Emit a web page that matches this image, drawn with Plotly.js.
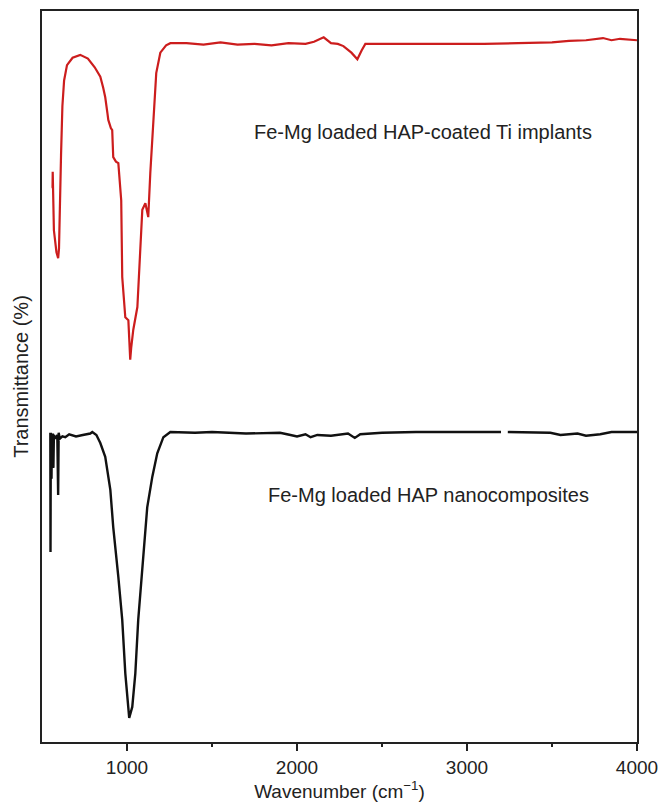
<!DOCTYPE html>
<html>
<head>
<meta charset="utf-8">
<script src="https://cdn.plot.ly/plotly-3.0.1.min.js"></script>
<style>html,body{margin:0;padding:0;background:#fff;}#chart{width:663px;height:806px;}</style>
</head>
<body>
<div id="chart"></div>
<script>
// Upper spectrum: Fe-Mg loaded HAP-coated Ti implants (red)
const coatedWavenumber = [556, 562, 563, 565, 570, 585, 595, 600, 605, 612, 620, 630, 647, 680, 725, 770, 810, 843, 860, 872, 885, 890, 905, 913, 919, 935, 949, 958, 966, 972, 990, 1008, 1013, 1019, 1025, 1037, 1061, 1078, 1090, 1108, 1125, 1137, 1155, 1172, 1196, 1230, 1255, 1350, 1450, 1550, 1650, 1750, 1850, 1950, 2050, 2100, 2157, 2200, 2240, 2273, 2320, 2355, 2380, 2402, 2500, 2700, 2900, 3000, 3100, 3300, 3500, 3600, 3700, 3800, 3850, 3900, 4000];
const coatedTransmittance = [75.9, 75.9, 78.0, 74.5, 70.0, 67.0, 66.2, 67.5, 75.0, 80.3, 87.0, 90.5, 92.6, 93.6, 94.0, 93.5, 92.3, 91.0, 89.5, 88.2, 86.0, 85.1, 84.0, 83.7, 80.0, 79.4, 79.2, 77.0, 74.1, 63.6, 58.1, 57.7, 55.0, 52.3, 54.0, 56.4, 59.5, 66.3, 72.8, 73.7, 71.8, 77.8, 85.1, 91.5, 94.3, 95.3, 95.6, 95.6, 95.4, 95.7, 95.4, 95.5, 95.3, 95.6, 95.5, 95.8, 96.4, 95.6, 95.5, 95.2, 94.3, 93.4, 94.6, 95.5, 95.5, 95.5, 95.4, 95.4, 95.5, 95.6, 95.7, 95.9, 96.0, 96.3, 96.0, 96.2, 96.0];

// Lower spectrum: Fe-Mg loaded HAP nanocomposites (black)
const nanoWavenumber = [549, 550, 552, 556, 558, 561, 564, 567, 570, 580, 590, 595, 598, 605, 620, 637, 660, 700, 740, 784, 796, 820, 843, 872, 902, 919, 949, 972, 990, 1008, 1013, 1031, 1049, 1066, 1090, 1119, 1149, 1178, 1214, 1255, 1400, 1500, 1700, 1900, 1962, 2000, 2050, 2080, 2120, 2200, 2300, 2340, 2372, 2500, 2700, 3000, 3200, 3225, 3240, 3490, 3550, 3650, 3700, 3784, 3850, 4000];
const nanoTransmittance = [42.3, 26.0, 42.3, 36.0, 42.0, 38.0, 42.2, 37.5, 42.0, 41.5, 42.0, 33.8, 42.3, 41.5, 41.8, 41.7, 42.1, 41.8, 42.0, 42.2, 42.4, 42.0, 40.9, 39.0, 34.5, 29.4, 22.6, 16.7, 9.4, 4.8, 3.3, 4.8, 9.4, 16.7, 23.9, 32.1, 36.3, 39.5, 41.7, 42.4, 42.3, 42.4, 42.2, 42.3, 42.0, 41.8, 42.1, 41.7, 42.0, 41.9, 42.2, 41.6, 42.1, 42.3, 42.4, 42.4, 42.4, null, 42.4, 42.3, 42.0, 42.2, 41.9, 42.1, 42.4, 42.4];

const labelTexts = ['Fe-Mg loaded HAP-coated Ti implants', 'Fe-Mg loaded HAP nanocomposites'];
const labelX = [2744, 2774];
const labelY = [83.4, 33.8];

const FONT = 'Liberation Sans, Arial, Helvetica, sans-serif';

const traces = [
  {x: coatedWavenumber, y: coatedTransmittance, mode: 'lines', type: 'scatter',
   line: {color: '#cc1d1d', width: 2.2}, name: labelTexts[0], connectgaps: false},
  {x: nanoWavenumber, y: nanoTransmittance, mode: 'lines', type: 'scatter',
   line: {color: '#111111', width: 2.4}, name: labelTexts[1], connectgaps: false}
];

const layout = {
  width: 663, height: 806,
  margin: {l: 42, r: 26, t: 11, b: 64},
  paper_bgcolor: '#ffffff', plot_bgcolor: '#ffffff',
  showlegend: false,
  font: {family: FONT, color: '#222'},
  xaxis: {
    range: [500, 4000], tickvals: [1000, 2000, 3000, 4000],
    ticks: 'outside', ticklen: 7, tickwidth: 2, tickcolor: '#222',
    minor: {tickvals: [1500, 2500, 3500], ticks: 'outside', ticklen: 3, tickwidth: 2, tickcolor: '#222'},
    showline: true, linecolor: '#222', linewidth: 2, mirror: true,
    showgrid: false, zeroline: false,
    tickfont: {family: FONT, size: 19, color: '#222'},
    title: {text: 'Wavenumber (cm<sup>−1</sup>)', font: {family: FONT, size: 19, color: '#222'}, standoff: 6}
  },
  yaxis: {
    range: [0, 100], showticklabels: false, ticks: '',
    showline: true, linecolor: '#222', linewidth: 2, mirror: true,
    showgrid: false, zeroline: false,
    title: {text: 'Transmittance (%)', font: {family: FONT, size: 20, color: '#222'}, standoff: 6}
  },
  annotations: labelTexts.map((t, i) => ({
    x: labelX[i], y: labelY[i], xref: 'x', yref: 'y', text: t, showarrow: false,
    xanchor: 'center', yanchor: 'middle',
    font: {family: FONT, size: 20, color: '#222'}
  }))
};

Plotly.newPlot('chart', traces, layout, {displayModeBar: false, staticPlot: true});
</script>
</body>
</html>
